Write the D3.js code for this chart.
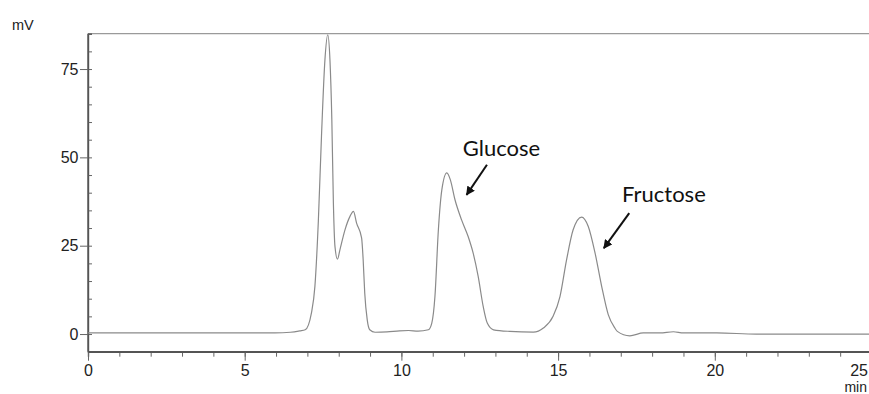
<!DOCTYPE html>
<html>
<head>
<meta charset="utf-8">
<script src="https://cdn.jsdelivr.net/npm/d3@7"></script>
<style>
  html, body { margin: 0; padding: 0; background: #fff; }
  svg { display: block; }
</style>
</head>
<body>
<div id="chart"></div>
<script>
// ---- data (time in min, signal in mV) ----
const times = [0, 2.98, 5.96, 6.46, 6.76, 6.93, 7.13, 7.24, 7.35, 7.45, 7.56, 7.65, 7.72, 7.78, 7.83, 7.88, 7.96, 8.04, 8.20, 8.36, 8.47, 8.57, 8.73, 8.78, 8.83, 8.91, 8.99, 9.16, 9.54, 9.94, 10.23, 10.53, 10.86, 10.97, 11.07, 11.18, 11.29, 11.45, 11.56, 11.71, 11.92, 12.13, 12.29, 12.45, 12.61, 12.74, 12.94, 13.46, 14.21, 14.53, 14.84, 15.06, 15.27, 15.48, 15.75, 15.96, 16.18, 16.39, 16.60, 16.81, 16.89, 17.29, 17.72, 18.25, 18.68, 19.00, 20.06, 21.33, 23, 25];
const signal = [0.3, 0.3, 0.3, 0.5, 0.9, 1.2, 6.0, 13.5, 32.0, 56.0, 77.6, 84.7, 77.6, 60.7, 37.0, 24.8, 21.2, 23.9, 29.5, 33.3, 34.7, 31.4, 27.2, 21.0, 11.6, 4.0, 1.2, 0.5, 0.6, 0.9, 1.0, 0.8, 1.2, 3.1, 10.6, 29.5, 40.8, 45.6, 43.7, 38.0, 32.3, 27.6, 22.9, 16.3, 7.8, 3.1, 1.2, 0.75, 0.55, 1.7, 5.0, 10.6, 21.0, 29.5, 33.1, 30.5, 22.9, 13.5, 5.5, 1.7, 0.75, -0.5, 0.3, 0.3, 0.65, 0.3, 0.3, 0.0, 0.0, 0.0];

const xMajorTicks = [0, 5, 10, 15, 20, 25];
const xMinorTicks = d3.range(0, 26, 1);
const yMajorTicks = [0, 25, 50, 75];
const yMinorTicks = d3.range(-5, 86, 5);

const annLabels = ["Glucose", "Fructose"];
const annTextT = [11.96, 17.04];
const annTextV = [50.5, 37.5];
const annFromT = [12.73, 17.27];
const annFromV = [47.9, 34.2];
const annToT = [12.08, 16.46];
const annToV = [39.4, 24.3];

// ---- drawing ----
const W = 869, H = 394;
const svg = d3.select("#chart").append("svg").attr("width", W).attr("height", H);

const x = d3.scaleLinear().domain([0, 25]).range([88, 871.5]);
const y = d3.scaleLinear().domain([-5, 85]).range([351.7, 33.7]);

const font = "'Liberation Sans', Arial, Helvetica, sans-serif";

// frame top line
svg.append("line")
  .attr("x1", x(0)).attr("x2", W + 2)
  .attr("y1", y(85)).attr("y2", y(85))
  .attr("stroke", "#9a9a9a").attr("stroke-width", 1.2);

// y axis minor
const yMinor = svg.append("g").attr("transform", `translate(${x(0)},0)`)
  .call(d3.axisLeft(y).tickValues(yMinorTicks).tickSize(-4).tickFormat(""));
// y axis major
const yMajor = svg.append("g").attr("transform", `translate(${x(0)},0)`)
  .call(d3.axisLeft(y).tickValues(yMajorTicks).tickSize(8).tickPadding(1.5).tickSizeOuter(0));

// x axis minor
const xMinor = svg.append("g").attr("transform", `translate(0,${y(-5)})`)
  .call(d3.axisBottom(x).tickValues(xMinorTicks).tickSize(5).tickFormat(""));
const xMajor = svg.append("g").attr("transform", `translate(0,${y(-5)})`)
  .call(d3.axisBottom(x).tickValues(xMajorTicks).tickSize(9).tickPadding(4).tickSizeOuter(0));

[yMinor, yMajor, xMinor, xMajor].forEach(g => {
  g.select(".domain").attr("stroke", "#555").attr("stroke-width", 1.4);
  g.selectAll(".tick line").attr("stroke", "#666").attr("stroke-width", 1);
  g.selectAll("text").attr("font-family", font).attr("font-size", 16).attr("fill", "#222");
});
// last x label pulled in from the edge so it stays visible
xMajor.selectAll(".tick text").filter(d => d === 25).attr("text-anchor", "end").attr("dx", -4);

// extend x axis line to edge
svg.append("line")
  .attr("x1", x(0)).attr("x2", W + 2)
  .attr("y1", y(-5)).attr("y2", y(-5))
  .attr("stroke", "#555").attr("stroke-width", 1.4);
yMajor.select(".domain").attr("d", `M0,${y(85)}V${y(-5)}`);

// axis titles
svg.append("text").attr("x", 12).attr("y", 30)
  .attr("font-family", font).attr("font-size", 14.5).attr("fill", "#222").text("mV");
svg.append("text").attr("x", 867).attr("y", 392)
  .attr("text-anchor", "end")
  .attr("font-family", font).attr("font-size", 14).attr("fill", "#222").text("min");

// trace
const pts = times.map((t, i) => [t, signal[i]]);
svg.append("path")
  .datum(pts)
  .attr("fill", "none")
  .attr("stroke", "#8a8a8a")
  .attr("stroke-width", 1.2)
  .attr("d", d3.line().x(d => x(d[0])).y(d => y(d[1])).curve(d3.curveMonotoneX));

// annotations
const defs = svg.append("defs");
defs.append("marker").attr("id", "arr")
  .attr("viewBox", "0 0 10 10").attr("refX", 9).attr("refY", 5)
  .attr("markerWidth", 4.5).attr("markerHeight", 4.5).attr("orient", "auto")
  .append("path").attr("d", "M0,0L10,5L0,10z").attr("fill", "#111");

annLabels.forEach((lab, i) => {
  svg.append("text")
    .attr("x", x(annTextT[i])).attr("y", y(annTextV[i]))
    .attr("font-family", "Lato, 'Open Sans', sans-serif")
    .attr("font-size", 22).attr("fill", "#111").text(lab);
  svg.append("line")
    .attr("x1", x(annFromT[i])).attr("y1", y(annFromV[i]))
    .attr("x2", x(annToT[i])).attr("y2", y(annToV[i]))
    .attr("stroke", "#111").attr("stroke-width", 2)
    .attr("marker-end", "url(#arr)");
});
</script>
</body>
</html>
